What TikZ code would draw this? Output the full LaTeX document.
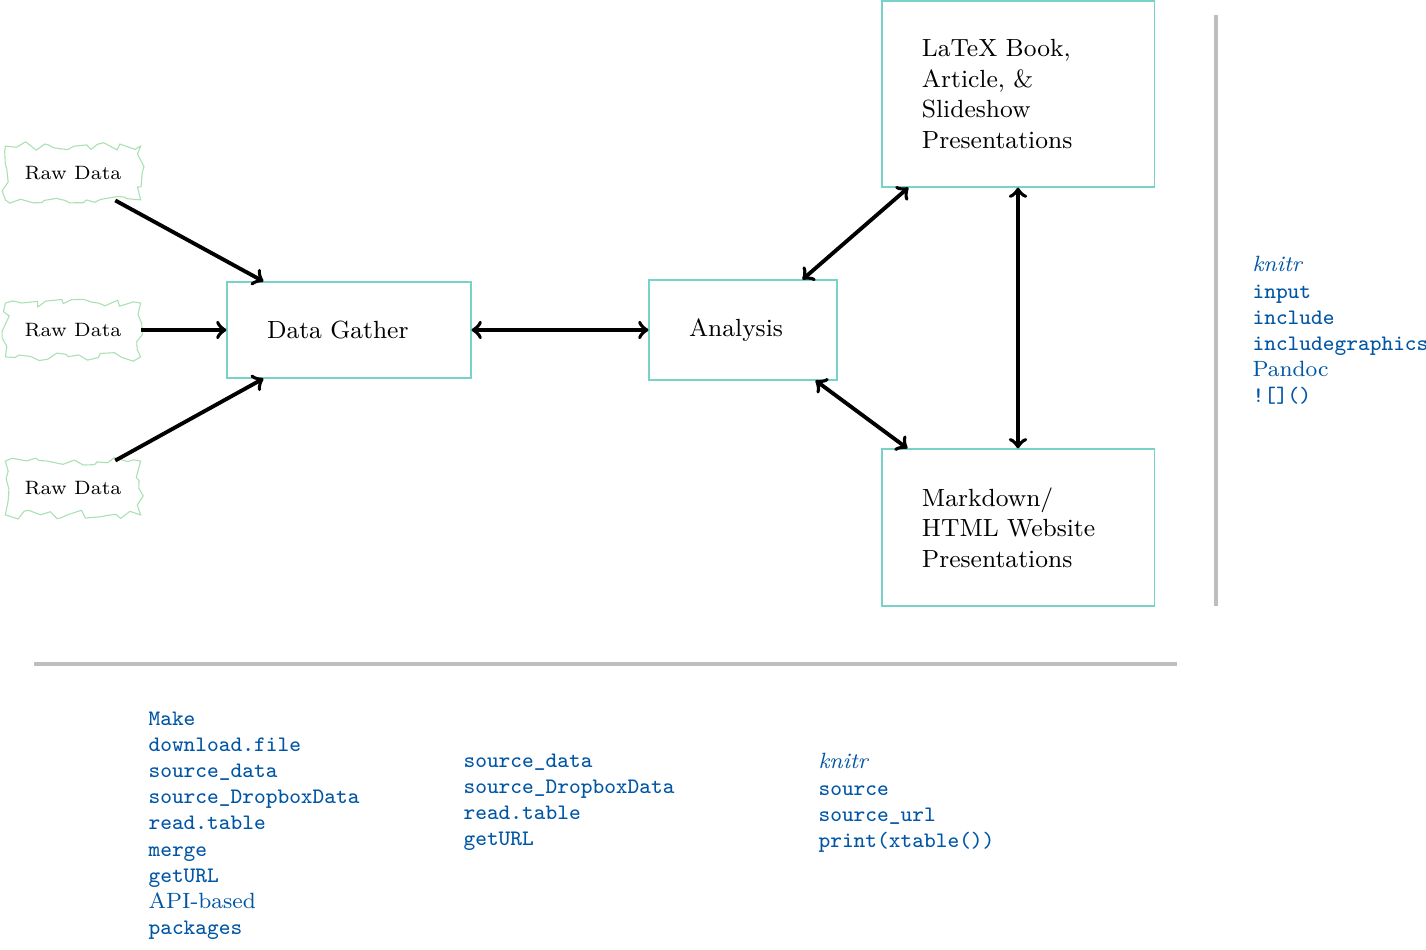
\documentclass[tikz,border=0pt]{standalone}
\usetikzlibrary{calc,decorations.pathmorphing}
\definecolor{boxc}{RGB}{120,210,200}
\definecolor{cloudc}{RGB}{170,225,180}
\definecolor{codec}{RGB}{0,85,165}
\definecolor{rulec}{RGB}{190,190,190}
\begin{document}
\begin{tikzpicture}[x=0.3623pt,y=-0.3623pt,
  stagebox/.style={draw=boxc, line width=0.4pt, inner xsep=14.49pt, inner ysep=0pt, align=left, font=\small},
  rawcloud/.style={draw=cloudc, line width=0.4pt, minimum width=49pt, minimum height=19.5pt, font=\scriptsize,
    decorate, decoration={random steps, segment length=3pt, amplitude=1.7pt}},
  flow/.style={line width=1.4pt, black},
  coltext/.style={anchor=north west, inner sep=0pt, align=left, text=codec, font=\footnotesize\ttfamily},
  greyrule/.style={draw=rulec, line width=1.2pt}]
\useasboundingbox (0,0) rectangle (1426,950);

\node[stagebox, minimum width=88.4pt, minimum height=34.8pt, text width=59.4pt] (dg) at (349,330) {Data Gather};
\node[stagebox, minimum width=68.1pt, minimum height=36.2pt, text width=39.1pt] (an) at (743,330) {Analysis};
\node[stagebox, minimum width=98.5pt, minimum height=67.4pt, text width=69.6pt] (latex) at (1018,94) {LaTeX Book,\\Article, \&\\Slideshow\\Presentations};
\node[stagebox, minimum width=98.5pt, minimum height=56.9pt, text width=69.6pt] (md) at (1018,527.5) {Markdown/\\HTML Website\\Presentations};

\node[rawcloud] (raw1) at (73,173) {Raw Data};
\node[rawcloud] (raw2) at (73,330) {Raw Data};
\node[rawcloud] (raw3) at (73,488) {Raw Data};

\draw[flow,->] (raw1.-33) -- ($(dg.north west)+(37,0)$);
\draw[flow,->] (raw2.east) -- (dg.west);
\draw[flow,->] (raw3.33) -- ($(dg.south west)+(37,0)$);
\draw[flow,<->] (dg.east) -- (an.west);
\draw[flow,<->] ($(an.north east)+(-35,0)$) -- ($(latex.south west)+(27,0)$);
\draw[flow,<->] ($(an.south east)+(-22,0)$) -- ($(md.north west)+(26,0)$);
\draw[flow,<->] (latex.south) -- (md.north);

\coordinate (vr1) at (1216,15);
\coordinate (vr2) at (1216,606);
\coordinate (hr1) at (34,664);
\coordinate (hr2) at (1177,664);
\draw[greyrule] (vr1) -- (vr2);
\draw[greyrule] (hr1) -- (hr2);

\node[coltext] (c1) at (148,711) {Make\\download.file\\source\_data\\source\_DropboxData\\read.table\\merge\\getURL\\{\rmfamily API-based}\\packages};
\node[coltext] (c2) at (463,753) {source\_data\\source\_DropboxData\\read.table\\getURL};
\node[coltext] (c3) at (818,753) {{\rmfamily\itshape knitr}\\source\\source\_url\\print(xtable())};
\node[coltext] (c4) at (1252,256) {{\rmfamily\itshape knitr}\\input\\include\\includegraphics\\{\rmfamily Pandoc}\\![]()};
\end{tikzpicture}
\end{document}
